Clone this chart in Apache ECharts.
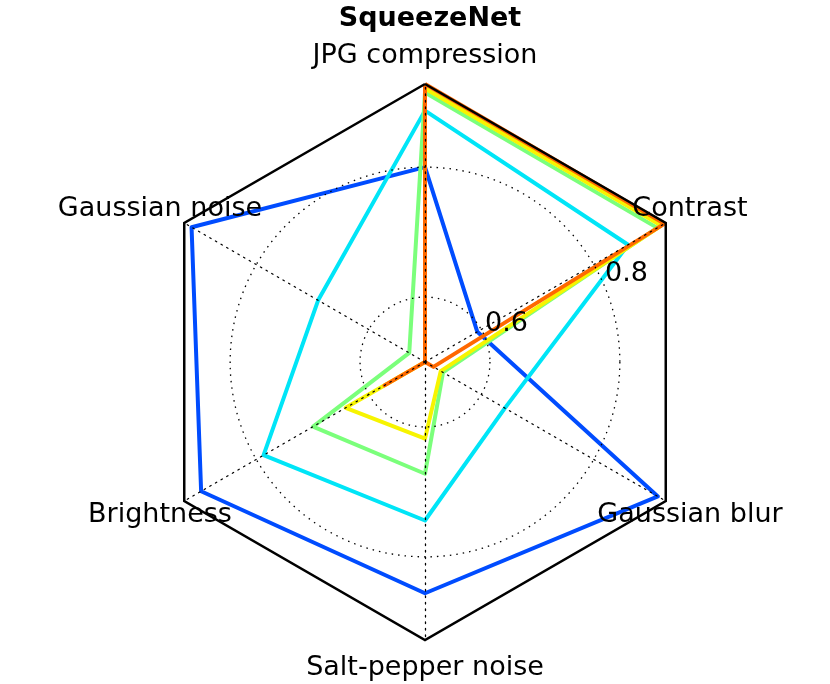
<!DOCTYPE html>
<html>
<head>
<meta charset="utf-8">
<title>SqueezeNet</title>
<script src="https://cdn.jsdelivr.net/npm/echarts@6/dist/echarts.min.js"></script>
<style>
  html, body { margin: 0; padding: 0; background: #fff; }
  #mychart { width: 830px; height: 684px; }
</style>
</head>
<body>
<div id="mychart"></div>
<script>
// axes, counterclockwise from the top (the order the radar lays them out)
const indicators = ['JPG compression', 'Gaussian noise', 'Brightness', 'Salt-pepper noise', 'Gaussian blur', 'Contrast'];

// one array per run, same order as indicators
const seriesNames = ['Series 1', 'Series 2', 'Series 3', 'Series 4', 'Series 5'];
const blueData   = [0.800, 0.915, 0.898, 0.856, 0.914, 0.593];
const cyanData   = [0.887, 0.690, 0.787, 0.744, 0.642, 0.861];
const greenData  = [0.915, 0.528, 0.699, 0.672, 0.532, 0.913];
const yellowData = [0.921, 0.500, 0.641, 0.618, 0.528, 0.920];
const orangeData = [0.928, 0.500, 0.572, 0.500, 0.515, 0.926];

// radial scale + the labelled rings
const radialMin = 0.5;
const radialMax = 0.928;
const radialStep = 0.1;
const radialTicks = [0.6, 0.8];

const colors = ['#004cff', '#00e5f7', '#7bff7b', '#f7f400', '#ff6800'];
const font = 'DejaVu Sans';
const cx = 425, cy = 362, R = 278;
const dotted = [1.5, 5];

// ticks that the radius axis will produce: min, min+step, ..., max
const ringVals = [];
for (let v = radialMin; v < radialMax - 1e-9; v += radialStep) ringVals.push(+v.toFixed(3));
ringVals.push(radialMax);
const ringColors = ringVals.map(function (v) {
  return radialTicks.some(function (t) { return Math.abs(t - v) < 1e-6; }) ? '#000' : 'rgba(0,0,0,0)';
});

const allData = [blueData, cyanData, greenData, yellowData, orangeData];

let mychart = echarts.init(document.getElementById('mychart'));
let options = {
  backgroundColor: '#fff',
  animation: false,
  title: {
    text: 'SqueezeNet',
    left: cx,
    textAlign: 'center',
    top: 0,
    textStyle: { fontFamily: font, fontSize: 27, fontWeight: 'bold', color: '#000' }
  },
  // polar only gives the dotted rings and the 0.6 / 0.8 labels
  polar: { center: [cx, cy], radius: R },
  angleAxis: {
    type: 'value', min: 0, max: 360, startAngle: 22.5,
    axisLine: { show: false }, axisTick: { show: false },
    axisLabel: { show: false }, splitLine: { show: false }
  },
  radiusAxis: {
    type: 'value',
    min: radialMin,
    max: radialMax,
    interval: radialStep,
    z: 5,
    axisLine: { show: false },
    axisTick: { show: false },
    axisLabel: {
      margin: 0,
      align: 'left',
      verticalAlign: 'bottom',
      fontFamily: font,
      fontSize: 27,
      color: '#000',
      showMinLabel: false,
      showMaxLabel: false,
      formatter: function (v) {
        return radialTicks.some(function (t) { return Math.abs(t - v) < 1e-6; }) ? v.toFixed(1) : '';
      }
    },
    splitLine: { show: true, lineStyle: { color: ringColors, width: 1.3, type: dotted } }
  },
  radar: {
    center: [cx, cy],
    radius: R,
    startAngle: 90,
    shape: 'polygon',
    splitNumber: 1,
    z: 3,
    indicator: indicators.map(function (n) { return { name: n, min: radialMin, max: radialMax }; }),
    axisNameGap: 28,
    axisName: { color: '#000', fontFamily: font, fontSize: 27, align: 'center', verticalAlign: 'middle' },
    axisLine: { lineStyle: { color: '#000', width: 1.3, type: dotted } },
    splitLine: { lineStyle: { color: '#000', width: 2.5 } },
    splitArea: { show: false },
    axisTick: { show: false },
    axisLabel: { show: false }
  },
  series: [{
    type: 'radar',
    symbol: 'none',
    data: allData.map(function (d, i) {
      return {
        name: seriesNames[i],
        value: d,
        lineStyle: { color: colors[i], width: 4 },
        itemStyle: { color: colors[i] }
      };
    })
  }]
};
mychart.setOption(options);
</script>
</body>
</html>
